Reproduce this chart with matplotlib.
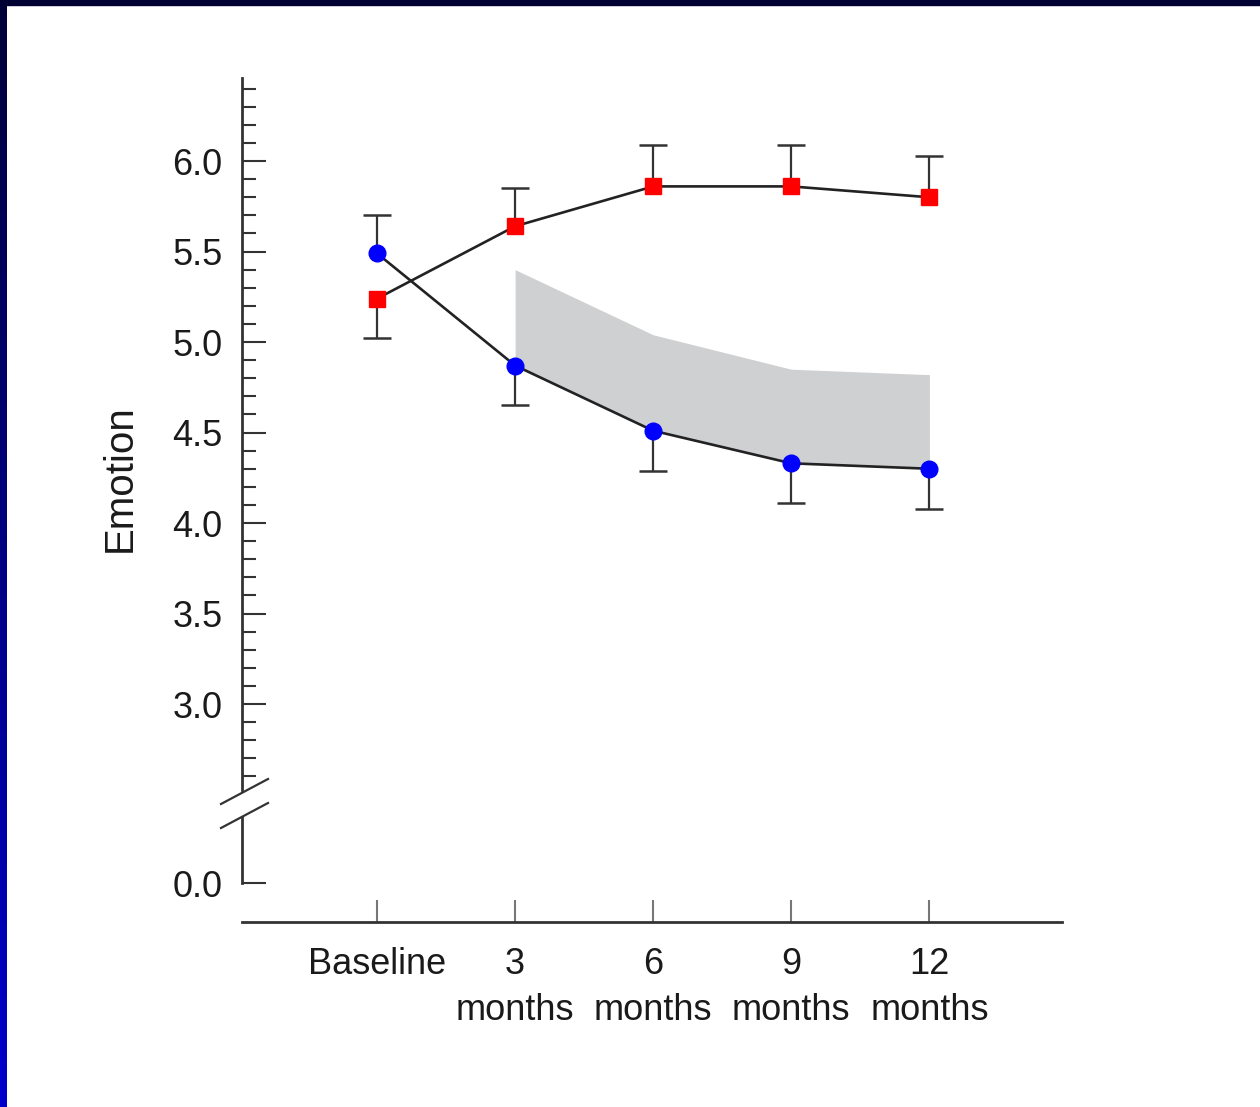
import numpy as np
import matplotlib
matplotlib.use("Agg")
import matplotlib.pyplot as plt
from matplotlib.lines import Line2D
from matplotlib.patches import Rectangle
from matplotlib.ticker import MultipleLocator, FixedLocator
from matplotlib.colors import LinearSegmentedColormap

plt.rcParams['font.family'] = ['Liberation Sans', 'DejaVu Sans']

# ---------------- data ----------------
categories = ["Baseline", "3\nmonths", "6\nmonths", "9\nmonths", "12\nmonths"]
blue_mean = [5.49, 4.87, 4.51, 4.33, 4.30]
blue_bar_end = [5.70, 4.65, 4.29, 4.11, 4.08]
red_mean = [5.24, 5.64, 5.86, 5.86, 5.80]
red_bar_end = [5.02, 5.85, 6.09, 6.09, 6.03]
band_upper = [5.40, 5.04, 4.85, 4.82]   # shaded band top, 3-12 months
major_ticks = [3.0, 3.5, 4.0, 4.5, 5.0, 5.5, 6.0]
zero_tick = [0.0]

W, H = 1260, 1107
fig = plt.figure(figsize=(W / 100, H / 100), dpi=100)
fig.patch.set_facecolor("white")

def fx(p):
    return p / W

def fy(p):
    return 1 - p / H

# frame decoration (left gradient strip, top band)
bg = fig.add_axes([0, 0, fx(7), 1])
grad = np.linspace(0, 1, 256).reshape(-1, 1)
cm = LinearSegmentedColormap.from_list("b", ["#000038", "#0000cc"])
bg.imshow(grad, aspect="auto", cmap=cm, extent=[0, 1, 0, 1], origin="upper")
bg.axis("off")
fig.add_artist(Rectangle((0, fy(5)), 1, 5 / H, transform=fig.transFigure,
                         color="#000033", zorder=5))

x = np.arange(len(categories))
xlim = (-0.978, 4.96)
ax_color = "#333333"
lbl_color = "#1a1a1a"
fs = 26

# ---------------- upper axes ----------------
ax1 = fig.add_axes([fx(242), fy(790), fx(1062 - 242), (790 - 78) / H])
ax1.set_facecolor("none")
ax1.set_xlim(*xlim)
ax1.set_ylim(2.525, 6.459)
for s in ["top", "right", "bottom"]:
    ax1.spines[s].set_visible(False)
ax1.spines["left"].set_color(ax_color)
ax1.spines["left"].set_linewidth(2.0)
ax1.set_xticks([])
ax1.yaxis.set_major_locator(FixedLocator(major_ticks))
ax1.yaxis.set_minor_locator(MultipleLocator(0.1))
ax1.set_yticklabels([f"{v:.1f}" for v in major_ticks])
ax1.tick_params(axis="y", which="major", direction="in", length=17, width=1.5,
                color=ax_color, labelsize=fs, labelcolor=lbl_color, pad=14)
ax1.tick_params(axis="y", which="minor", direction="in", length=10, width=1.5,
                color=ax_color)

# shaded band
ax1.fill_between(x[1:], blue_mean[1:], band_upper, color="#cfd0d2",
                 linewidth=0, zorder=1)

# error bars (one-sided)
ax1.vlines(x, blue_mean, blue_bar_end, color=ax_color, lw=1.6, zorder=2)
ax1.plot(x, blue_bar_end, ls="none", marker="_", markersize=19.5,
         mew=1.8, color=ax_color, zorder=2)
ax1.vlines(x, red_mean, red_bar_end, color=ax_color, lw=1.6, zorder=2)
ax1.plot(x, red_bar_end, ls="none", marker="_", markersize=19.5,
         mew=1.8, color=ax_color, zorder=2)

# lines and markers
ax1.plot(x, blue_mean, color="#222222", lw=1.9, zorder=3)
ax1.plot(x, red_mean, color="#222222", lw=1.9, zorder=3)
ax1.plot(x, blue_mean, ls="none", marker="o", markersize=12,
         color="#0000ff", mec="#0000ff", zorder=4)
ax1.plot(x, red_mean, ls="none", marker="s", markersize=12,
         color="#ff0000", mec="#ff0000", zorder=4)

# ---------------- lower axes ----------------
ax2 = fig.add_axes([fx(242), fy(922), fx(1062 - 242), (922 - 817) / H])
ax2.set_facecolor("none")
ax2.set_xlim(*xlim)
ax2.set_ylim(-0.215, 0.365)
for s in ["top", "right"]:
    ax2.spines[s].set_visible(False)
ax2.spines["left"].set_bounds(0.0, 0.365)
ax2.spines["left"].set_color(ax_color)
ax2.spines["left"].set_linewidth(2.0)
ax2.spines["bottom"].set_color(ax_color)
ax2.spines["bottom"].set_linewidth(2.0)
ax2.set_yticks(zero_tick)
ax2.set_yticklabels([f"{v:.1f}" for v in zero_tick])
ax2.tick_params(axis="y", direction="in", length=17, width=1.5,
                color=ax_color, labelsize=fs, labelcolor=lbl_color, pad=14)
ax2.set_xticks(x)
ax2.set_xticklabels(categories, multialignment="center", linespacing=1.4)
ax2.tick_params(axis="x", direction="in", length=16, width=1.5,
                color="#777777", labelsize=fs, labelcolor=lbl_color, pad=18)
for lab in ax2.get_xticklabels():
    lab.set_verticalalignment("top")

# axis break marks
for (x0, y0, x1, y1) in [(221, 804, 268, 779), (221, 828, 268, 803)]:
    fig.add_artist(Line2D([fx(x0), fx(x1)], [fy(y0), fy(y1)],
                          transform=fig.transFigure, color=ax_color, lw=1.6))

# y label
fig.text(fx(120), fy(478), "Emotion", rotation=90, ha="center", va="center",
         fontsize=29, color=lbl_color)

fig.savefig("out.png", dpi=100)
